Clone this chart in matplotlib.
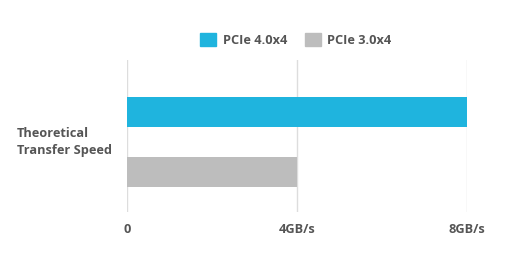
import matplotlib
matplotlib.use('Agg')
import matplotlib.pyplot as plt
from matplotlib.patches import Patch

plt.rcParams['font.family'] = ['Open Sans', 'DejaVu Sans']

series = ['PCIe 4.0x4', 'PCIe 3.0x4']
speeds = [8, 4]
colors = ['#1fb4de', '#bdbdbd']
category = 'Theoretical\nTransfer Speed'
ticks = [0, 4, 8]
tick_labels = ['0', '4GB/s', '8GB/s']

txt = '#555555'

fig = plt.figure(figsize=(5.07, 2.70), dpi=100)
ax = fig.add_axes([127/507, 1 - 212/270, 340/507, 152/270])

ax.barh(range(len(series)), speeds, height=0.5, color=colors, zorder=2)

ax.set_xlim(0, 8)
ax.set_ylim(1.667, -0.867)
ax.set_xticks(ticks)
ax.set_xticklabels(tick_labels, fontsize=9.2, fontweight='bold', color=txt)
ax.set_yticks([])
ax.tick_params(axis='x', length=0, pad=8)
for s in ax.spines.values():
    s.set_visible(False)
ax.grid(axis='x', color='#dddddd', linewidth=1, zorder=1)

fig.text(17/507, 1 - 142/270, category, ha='left', va='center',
         fontsize=9.2, fontweight='bold', color=txt, linespacing=1.35)

handles = [Patch(color=c, label=s) for c, s in zip(colors, series)]
fig.legend(handles=handles, loc='center', bbox_to_anchor=(296/507, 1 - 40/270),
           ncol=2, frameon=False, handlelength=1.25, handleheight=1.25,
           handletextpad=0.5, columnspacing=1.4,
           prop={'size': 9.2, 'weight': 'bold'}, labelcolor=txt)

fig.savefig('out.png', dpi=100)
